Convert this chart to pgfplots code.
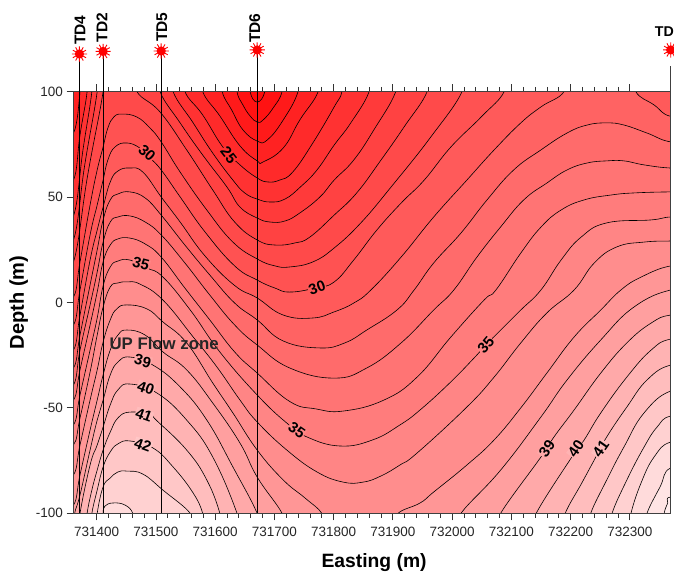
\documentclass[border=0pt]{standalone}
\usepackage{fontspec}
\setmainfont{Liberation Sans}
\usepackage{pgfplots}
\pgfplotsset{compat=1.18}
\pgfplotsset{lv/.style={fill={rgb,255:red,255;green,#1;blue,#1},draw=black,line width=0.6pt,no markers,smooth,tension=0.75}}
\tikzset{cl/.style 2 args={font=\fontsize{15}{15}\bfseries,inner sep=0.5pt,rotate=#1,fill={rgb,255:red,255;green,#2;blue,#2}}}
\pgfdeclareplotmark{burst}{%
  \pgfpathcircle{\pgfpointorigin}{4.6pt}\pgfusepathqfill
  \pgfsetlinewidth{0.9pt}
  \pgfpathmoveto{\pgfqpoint{-7.6pt}{0pt}}\pgfpathlineto{\pgfqpoint{7.6pt}{0pt}}
  \pgfpathmoveto{\pgfqpoint{-6.58pt}{-3.8pt}}\pgfpathlineto{\pgfqpoint{6.58pt}{3.8pt}}
  \pgfpathmoveto{\pgfqpoint{-3.8pt}{-6.58pt}}\pgfpathlineto{\pgfqpoint{3.8pt}{6.58pt}}
  \pgfpathmoveto{\pgfqpoint{0pt}{-7.6pt}}\pgfpathlineto{\pgfqpoint{0pt}{7.6pt}}
  \pgfpathmoveto{\pgfqpoint{3.8pt}{-6.58pt}}\pgfpathlineto{\pgfqpoint{-3.8pt}{6.58pt}}
  \pgfpathmoveto{\pgfqpoint{6.58pt}{-3.8pt}}\pgfpathlineto{\pgfqpoint{-6.58pt}{3.8pt}}
  \pgfusepathqstroke
}
\begin{document}
\begin{tikzpicture}
\useasboundingbox (0,0) rectangle (674pt,572pt);
\begin{axis}[
  at={(73.5pt,58.7pt)},anchor=south west,
  scale only axis,width=597.2pt,height=421.8pt,
  xmin=731361,xmax=732369,ymin=-100,ymax=100,
  axis on top,
  axis line style={black!75,line width=0.8pt},
  tick style={black!80,line width=0.7pt},
  tick align=outside,
  xtick={731400,731500,731600,731700,731800,731900,732000,732100,732200,732300},
  minor x tick num=4,
  ytick={-100,-50,0,50,100},
  ytick pos=left,
  xtick pos=both,
  xticklabel pos=bottom,
  major tick length=7pt,minor tick length=4.5pt,
  tick label style={font=\fontsize{13.5}{15}\selectfont,black!85},
  xticklabel style={yshift=-3pt},
  /pgf/number format/assume math mode=true,
  /pgf/number format/fixed,
  /pgf/number format/set thousands separator={},
  scaled x ticks=false,
  xlabel={Easting (m)},ylabel={Depth (m)},
  xlabel style={font=\fontsize{19.3}{21}\bfseries,at={(axis description cs:0.5,0)},anchor=north,yshift=-37pt,xshift=2pt},
  ylabel style={font=\fontsize{20}{22}\bfseries,at={(axis description cs:0,0.5)},anchor=south,yshift=42pt},
]
\addplot[fill={rgb,255:red,255;green,10;blue,10},draw=none,no markers] coordinates {(731338,110)(732418,110)(732418,-112.7)(731338,-112.7)} -- cycle;
% level 21
\addplot[lv=18] coordinates {(731338,110)(731659,110)(731659,100)(731671,95)(731684,100)(731684,110)(732418,110)(732418,-112.7)(731338,-112.7)} -- cycle;
% level 22
\addplot[lv=26] coordinates {(731338,110)(731637,110)(731637,100)(731647,93.6)(731659,88.4)(731671,85.5)(731681,86.5)(731698,92.2)(731713,100)(731713,110)(732418,110)(732418,-112.7)(731338,-112.7)} -- cycle;
% level 23
\addplot[lv=34] coordinates {(731338,110)(731612,110)(731612,100)(731628,91.2)(731647,81.8)(731671,76.5)(731688,77)(731715,86.5)(731740,100)(731740,110)(732418,110)(732418,-112.7)(731338,-112.7)} -- cycle;
% level 24
\addplot[lv=42] coordinates {(731338,80.3)(731361,80.3)(731372,100)(731372,110)(731579,110)(731579,100)(731608,88.4)(731642,74.2)(731671,67.1)(731681,66.6)(731715,73.2)(731743,86.5)(731774,100)(731774,110)(732418,110)(732418,-112.7)(731338,-112.7)} -- cycle;
% level 25
\addplot[lv=50] coordinates {(731338,58)(731361,58)(731372,79.4)(731384,100)(731384,110)(731549,110)(731549,100)(731579,88.9)(731613,73.7)(731642,65.2)(731671,59)(731689,57.1)(731709,58)(731731,61.8)(731765,75.6)(731801,92.7)(731814,100)(731814,110)(732418,110)(732418,-112.7)(731338,-112.7)} -- cycle;
% level 26
\addplot[lv=58] coordinates {(731338,41)(731361,41)(731377,72.3)(731392,100)(731392,110)(731529,110)(731529,100)(731563,85.1)(731596,70.8)(731630,58)(731650,51.9)(731671,49)(731693,47.6)(731718,49)(731745,55)(731772,62.8)(731801,74.6)(731829,85.1)(731860,100)(731860,110)(732418,110)(732418,-112.7)(731338,-112.7)} -- cycle;
% level 27
\addplot[lv=66] coordinates {(731338,29.6)(731361,29.6)(731380,65.2)(731401,100)(731401,110)(731507,110)(731507,100)(731541,85.1)(731579,69.9)(731620,54.7)(731642,45.2)(731671,40)(731693,38.1)(731718,38.6)(731743,42.4)(731777,50)(731801,58)(731834,67.5)(731868,81.8)(731905,100)(731905,110)(732418,110)(732418,-112.7)(731338,-112.7)} -- cycle;
% level 28
\addplot[lv=74] coordinates {(731338,19.2)(731361,19.2)(731385,60.4)(731411,100)(731411,110)(731468,110)(731468,100)(731507,90.3)(731552,72.3)(731596,53.3)(731633,38.1)(731671,29.6)(731701,27.2)(731735,28.2)(731760,31)(731801,41.4)(731839,51.9)(731880,67.5)(731919,83.2)(731958,100)(731958,110)(732418,110)(732418,-112.7)(731338,-112.7)} -- cycle;
% level 29
\addplot[lv=82] coordinates {(731338,2.6)(731361,2.6)(731372,19.2)(731389,46.2)(731401,62.8)(731411,73.7)(731419,82.7)(731429,87.9)(731443,89.3)(731468,87.9)(731490,82.7)(731509,76.1)(731541,61.8)(731586,43.8)(731630,28.6)(731671,20.6)(731701,17.3)(731726,16.8)(731765,19.2)(731801,25.8)(731846,37.7)(731897,54.7)(731964,78.4)(732017,100)(732017,110)(732418,110)(732418,-112.7)(731338,-112.7)} -- cycle;
% level 30
\addplot[lv=90] coordinates {(731338,-10.7)(731361,-10.7)(731372,5.9)(731389,32)(731401,46.2)(731411,58)(731419,67.5)(731431,73.7)(731451,75.6)(731473,73.2)(731490,68.5)(731509,62.8)(731541,50)(731583,33.4)(731633,17.3)(731671,10.6)(731701,6.8)(731726,4.9)(731769,6.8)(731801,9.7)(731834,20.1)(731873,34.3)(731914,47.1)(731953,58)(731998,73.7)(732049,87.9)(732088,100)(732088,110)(732418,110)(732418,-112.7)(731338,-112.7)} -- cycle;
% level 31
\addplot[lv=99] coordinates {(731338,-22.6)(731361,-22.6)(731372,-6)(731389,20.1)(731401,34.3)(731411,45.2)(731423,57.1)(731436,62.3)(731456,63.7)(731478,61.8)(731509,50)(731541,38.1)(731583,22)(731633,8)(731671,2.1)(731715,-6)(731765,-7.4)(731801,-4.5)(731834,-0.3)(731863,5.9)(731914,21.5)(731969,40.5)(732025,58)(732071,72.3)(732116,85.1)(732150,92.7)(732189,100)(732189,110)(732310,110)(732310,100)(732341,93.6)(732369,88.2)(732418,88.2)(732418,-112.7)(731338,-112.7)} -- cycle;
% level 32
\addplot[lv=107] coordinates {(731338,-31.1)(731361,-31.1)(731372,-15.5)(731389,8.3)(731401,24.9)(731411,39.1)(731423,48.6)(731436,51.4)(731456,52.4)(731482,49.5)(731509,41.4)(731549,27.2)(731591,13)(731633,-0.3)(731671,-8.3)(731715,-18.3)(731777,-21.6)(731819,-19.2)(731856,-13.1)(731907,-3.6)(731936,5.9)(731969,18.7)(732015,32.9)(732059,48.6)(732104,62.8)(732150,72.3)(732194,80.3)(732228,84.1)(732261,85.1)(732290,84.1)(732329,80.3)(732369,76.1)(732418,76.1)(732418,-112.7)(731338,-112.7)} -- cycle;
% level 33
\addplot[lv=116] coordinates {(731338,-39.2)(731361,-39.2)(731372,-22.6)(731389,-1.2)(731401,14.4)(731411,28.6)(731423,38.1)(731436,40.5)(731456,41)(731482,38.1)(731509,32)(731549,18.7)(731591,3.5)(731633,-10.7)(731671,-20.2)(731726,-31.1)(731801,-35.9)(731856,-31.1)(731914,-19.2)(731969,-3.6)(732003,5.9)(732042,21.5)(732082,35.8)(732121,48.6)(732160,56.6)(732194,62.8)(732228,66.1)(732261,67.1)(732290,67.1)(732324,65.2)(732369,63.7)(732418,63.7)(732418,-112.7)(731338,-112.7)} -- cycle;
% level 34
\addplot[lv=124] coordinates {(731338,-46.3)(731361,-46.3)(731372,-32)(731389,-10.7)(731401,4.9)(731411,19.2)(731423,27.2)(731436,30.1)(731456,30.5)(731482,27.7)(731509,21.5)(731549,6.8)(731591,-8.3)(731633,-23.5)(731671,-33.5)(731726,-47)(731770,-50.5)(731817,-51.5)(731885,-46.3)(731941,-35.4)(731998,-16.4)(732054,1.1)(732074,5.9)(732116,23.4)(732150,35.7)(732184,43.8)(732223,48.6)(732268,50.9)(732307,51.9)(732369,52.4)(732418,52.4)(732418,-112.7)(731338,-112.7)} -- cycle;
% level 35
\addplot[lv=133] coordinates {(731338,-58.1)(731361,-58.1)(731372,-43.9)(731389,-22.6)(731401,-7.4)(731411,7.8)(731423,16.8)(731436,19.6)(731456,20.1)(731485,16.3)(731512,12)(731558,-3.6)(731608,-23.5)(731671,-43.9)(731721,-57.2)(731755,-63.8)(731811,-68.1)(731866,-65.2)(731912,-58.1)(731946,-51)(731996,-38.2)(732037,-26.4)(732057,-20.2)(732082,-13.1)(732116,-3.6)(732150,5.9)(732184,20.1)(732218,31)(732261,37.7)(732336,39.1)(732369,40.5)(732418,40.5)(732418,-112.7)(731338,-112.7)} -- cycle;
% level 36
\addplot[lv=141] coordinates {(731338,-67.6)(731361,-67.6)(731372,-54.8)(731389,-33)(731401,-15.5)(731411,-2.2)(731423,7.3)(731436,9.2)(731451,9.7)(731473,8.7)(731512,1.1)(731563,-16.4)(731603,-30.6)(731642,-46.3)(731671,-56.7)(731721,-70)(731772,-80.4)(731816,-85.2)(731850,-85.2)(731880,-82.3)(731912,-77.1)(731941,-71.4)(732025,-49.6)(732071,-35.4)(732116,-19.2)(732160,-5)(732206,5.9)(732240,18.7)(732278,26.3)(732324,28.6)(732369,29.1)(732418,29.1)(732418,-112.7)(731338,-112.7)} -- cycle;
% level 37
\addplot[lv=150] coordinates {(731338,-81.8)(731361,-81.8)(731372,-67.6)(731389,-46.3)(731401,-32)(731411,-18.8)(731423,-8.3)(731434,-3.1)(731451,-1.2)(731485,-3.1)(731512,-9.3)(731552,-19.2)(731596,-38.2)(731630,-52.4)(731671,-70)(731715,-84.2)(731752,-92.8)(731780,-100)(731780,-105.5)(731909,-105.5)(731909,-100)(731946,-95.1)(731969,-89.9)(732025,-77.1)(732071,-65.2)(732116,-50)(732160,-33.5)(732206,-16.4)(732251,-3.6)(732285,5.9)(732319,12)(732369,17.3)(732418,17.3)(732418,-112.7)(731338,-112.7)} -- cycle;
% level 38
\addplot[lv=159] coordinates {(731338,-96.1)(731361,-96.1)(731372,-81.8)(731389,-60.5)(731401,-46.3)(731411,-34.4)(731423,-22.6)(731436,-15.5)(731451,-13.1)(731482,-15.5)(731512,-23.5)(731552,-32)(731596,-47.7)(731642,-66.7)(731671,-82.8)(731713,-100)(731713,-105.5)(732015,-105.5)(732015,-100)(732082,-79.5)(732150,-54.3)(732194,-36.8)(732251,-17.8)(732307,-2.2)(732369,5.9)(732418,5.9)(732418,-112.7)(731338,-112.7)} -- cycle;
% level 39
\addplot[lv=169] coordinates {(731363,-105.5)(731363,-100)(731372,-91.3)(731389,-70)(731401,-55.8)(731411,-46.3)(731423,-34.4)(731436,-28.3)(731456,-25.9)(731495,-29.7)(731541,-40.1)(731586,-55.8)(731630,-78)(731671,-100)(731671,-105.5)(732082,-105.5)(732082,-100)(732150,-73.3)(732172,-63.8)(732206,-51)(732251,-33.5)(732295,-19.2)(732336,-9.8)(732369,-6)(732418,-6)(732418,-112.7)(731338,-112.7)} -- cycle;
% level 40
\addplot[lv=179] coordinates {(731372,-105.5)(731372,-100)(731389,-77.1)(731401,-67.6)(731411,-59.1)(731423,-48.6)(731436,-41.5)(731456,-38.7)(731502,-43)(731552,-55.8)(731596,-73.3)(731637,-100)(731637,-105.5)(732142,-105.5)(732142,-100)(732201,-73.8)(732223,-65.2)(732251,-52.4)(732295,-35.4)(732336,-22.6)(732369,-17.4)(732418,-17.4)(732418,-112.7)(731338,-112.7)} -- cycle;
% level 41
\addplot[lv=189] coordinates {(731384,-105.5)(731384,-100)(731392,-89)(731401,-79.5)(731411,-70)(731423,-61.5)(731436,-54.8)(731456,-52)(731490,-53.4)(731502,-56.2)(731552,-70)(731586,-84.2)(731608,-100)(731608,-105.5)(732191,-105.5)(732191,-100)(732219,-85.6)(732240,-74.7)(732261,-63.8)(732295,-49.6)(732329,-36.8)(732369,-29.7)(732418,-29.7)(732418,-112.7)(731338,-112.7)} -- cycle;
% level 42
\addplot[lv=199] coordinates {(731392,-105.5)(731392,-100)(731401,-89)(731411,-78)(731423,-70.9)(731436,-67.1)(731456,-65.7)(731495,-69)(731529,-78)(731563,-90.4)(731579,-100)(731579,-105.5)(732234,-105.5)(732234,-100)(732261,-84.2)(732290,-68.6)(732324,-52.4)(732369,-42)(732418,-42)(732418,-112.7)(731338,-112.7)} -- cycle;
% level 43
\addplot[lv=209] coordinates {(731401,-105.5)(731401,-100)(731411,-87.5)(731423,-83.3)(731436,-80.4)(731451,-80)(731478,-81.4)(731512,-89)(731558,-100)(731558,-105.5)(732270,-105.5)(732270,-100)(732295,-84.2)(732324,-68.6)(732346,-59.1)(732369,-53.9)(732418,-53.9)(732418,-112.7)(731338,-112.7)} -- cycle;
% level 44, two parts
\addplot[lv=219] coordinates {(731411,-105.5)(731411,-100)(731414,-96.6)(731428,-95.1)(731448,-96.1)(731461,-100)(731461,-105.5)} -- cycle;
\addplot[lv=219] coordinates {(732302,-105.5)(732302,-100)(732319,-85.6)(732341,-73.3)(732369,-66.2)(732418,-66.2)(732418,-112.7)(732302,-112.7)} -- cycle;
% level 45
\addplot[lv=228] coordinates {(732329,-105.5)(732329,-100)(732351,-87.5)(732369,-78.5)(732418,-78.5)(732418,-112.7)(732329,-112.7)} -- cycle;
% level 46
\addplot[lv=236] coordinates {(732358,-105.5)(732358,-100)(732364,-95.1)(732369,-92.3)(732418,-92.3)(732418,-112.7)(732358,-112.7)} -- cycle;
% contour labels
\node[cl={-42}{90}] at (axis cs:731485,70.8) {30};
\node[cl={-52}{50}] at (axis cs:731623,69.9) {25};
\node[cl={-15}{133}] at (axis cs:731475,18.2) {35};
\node[cl={20}{90}] at (axis cs:731772,6.8) {30};
\node[cl={-35}{133}] at (axis cs:731738,-60.5) {35};
\node[cl={50}{133}] at (axis cs:732057,-20.2) {35};
\node[cl={-15}{169}] at (axis cs:731478,-27.8) {39};
\node[cl={-20}{179}] at (axis cs:731483,-40.6) {40};
\node[cl={-20}{189}] at (axis cs:731480,-53.4) {41};
\node[cl={-20}{199}] at (axis cs:731478,-67.6) {42};
\node[cl={55}{169}] at (axis cs:732160,-69.5) {39};
\node[cl={55}{179}] at (axis cs:732209,-69.5) {40};
\node[cl={55}{189}] at (axis cs:732251,-69.5) {41};
\node[font=\fontsize{16.8}{18}\bfseries,black!85] at (axis cs:731514,-19.3) {UP Flow zone};
\end{axis}
\begin{axis}[
  at={(73.5pt,58.7pt)},anchor=south west,
  scale only axis,width=597.2pt,height=421.8pt,
  xmin=731361,xmax=732369,ymin=-100,ymax=100,
  hide axis,clip=false,
]
\addplot[black,line width=0.8pt,no markers] coordinates {(731371,117.8)(731371,-100)};
\addplot[black,line width=0.8pt,no markers] coordinates {(731411,119)(731411,-100)};
\addplot[black,line width=0.8pt,no markers] coordinates {(731509,119.2)(731509,-100)};
\addplot[black,line width=0.8pt,no markers] coordinates {(731671,119.7)(731671,-100)};
\addplot[black!75,line width=0.8pt,no markers] coordinates {(732369,112)(732369,-100)};
\addplot[only marks,mark=burst,red] coordinates {(731371,117.8)(731411,119)(731509,119.2)(731671,119.7)(732369,119.7)};
\node[font=\fontsize{15.5}{16}\bfseries,rotate=90,anchor=west] at (axis cs:731372,120.5) {TD4};
\node[font=\fontsize{15.5}{16}\bfseries,rotate=90,anchor=west] at (axis cs:731409,121.6) {TD2};
\node[font=\fontsize{15.5}{16}\bfseries,rotate=90,anchor=west] at (axis cs:731510,121.8) {TD5};
\node[font=\fontsize{15.5}{16}\bfseries,rotate=90,anchor=west] at (axis cs:731667,121.4) {TD6};
\node[font=\fontsize{14.2}{15}\bfseries,anchor=west,inner sep=0pt] at (axis cs:732342,128.5) {TD};
\end{axis}
\end{tikzpicture}
\end{document}
